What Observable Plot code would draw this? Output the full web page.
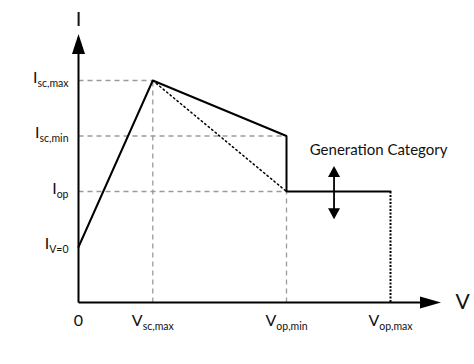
<!DOCTYPE html>
<html>
<head>
<meta charset="utf-8">
<script src="https://cdn.jsdelivr.net/npm/d3@7"></script>
<script src="https://cdn.jsdelivr.net/npm/@observablehq/plot@0.6"></script>
<style>
  html, body { margin: 0; padding: 0; background: #fff; }
  svg { display: block; }
</style>
</head>
<body>
<div id="chart"></div>
<script>
// Voltage positions (arbitrary units) and their tick labels ("|" marks subscript start)
const vTicks = [0, 2.5, 7, 10.5];
const vLabels = ["0", "V|sc,max", "V|op,min", "V|op,max"];
// Current positions and tick labels
const iTicks = [2.5, 5, 7.5, 10];
const iLabels = ["I|V=0", "I|op", "I|sc,min", "I|sc,max"];
// Characteristic curve (solid)
const curveV = [0, 2.5, 7, 7, 10.5];
const curveI = [2.5, 10, 7.5, 5, 5];
// Dotted alternative path
const dottedV = [2.5, 7];
const dottedI = [10, 5];
// Axis extents and annotation
const axisVEnd = 12.2, axisIEnd = 12.1;
const axisVLabel = "V", axisILabel = "I";
const genLabel = "Generation Category";
const genV = 10.1, genI = 6.85;
const genArrowV = 8.6, genArrowI = [3.75, 6.15];

const curve = curveV.map((v, k) => ({v, i: curveI[k]}));
const dotted = dottedV.map((v, k) => ({v, i: dottedI[k]}));
const [iV0, iOp, iScMin, iScMax] = iTicks;
const [v0, vScMax, vOpMin, vOpMax] = vTicks;

// Guide lines (dashed grey)
const hGuides = [
  {i: iScMax, v2: vScMax},
  {i: iScMin, v2: vOpMin},
  {i: iOp, v2: vOpMin}
];
const vGuides = [
  {v: vScMax, i2: iScMax},
  {v: vOpMin, i2: iOp}
];

// custom arrowhead symbols (tip at origin)
const arrowUp = {draw(c) { c.moveTo(0, 0); c.lineTo(6.5, 20); c.lineTo(-6.5, 20); c.closePath(); }};
const arrowRight = {draw(c) { c.moveTo(0, 0); c.lineTo(-21, -6); c.lineTo(-21, 6); c.closePath(); }};
const smallUp = {draw(c) { c.moveTo(0, 0); c.lineTo(6, 11); c.lineTo(-6, 11); c.closePath(); }};
const smallDown = {draw(c) { c.moveTo(0, 0); c.lineTo(6, -11); c.lineTo(-6, -11); c.closePath(); }};

const font = "Lato, 'Open Sans', sans-serif";

const plot = Plot.plot({
  width: 474,
  height: 364,
  style: {background: "#fff", fontFamily: font, overflow: "visible"},
  x: {domain: [0, 10.5], range: [78, 390], axis: null},
  y: {domain: [0, 10], range: [302, 80], axis: null},
  marks: [
    // dashed guides
    Plot.link(hGuides, {x1: v0, x2: "v2", y1: "i", y2: "i", stroke: "#9a9a9a", strokeWidth: 1.3, strokeDasharray: "5,4"}),
    Plot.link(vGuides, {x1: "v", x2: "v", y1: 0, y2: "i2", stroke: "#9a9a9a", strokeWidth: 1.3, strokeDasharray: "5,4"}),
    // dotted diagonal
    Plot.line(dotted, {x: "v", y: "i", stroke: "#000", strokeWidth: 1.5, strokeDasharray: "1.5,3"}),
    // dotted vertical at Vop,max
    Plot.link([vOpMax], {x1: d => d, x2: d => d, y1: iOp, y2: 0, stroke: "#000", strokeWidth: 2, strokeDasharray: "2,1.5"}),
    // characteristic
    Plot.line(curve, {x: "v", y: "i", stroke: "#000", strokeWidth: 2, strokeLinejoin: "miter"}),
    // axes
    Plot.link([0], {x1: v0, x2: v0, y1: 0, y2: axisIEnd - 0.5, stroke: "#000", strokeWidth: 2}),
    Plot.link([0], {x1: v0, x2: axisVEnd - 0.5, y1: 0, y2: 0, stroke: "#000", strokeWidth: 2}),
    Plot.dot([0], {x: v0, y: axisIEnd, symbol: arrowUp, fill: "#000", stroke: null}),
    Plot.dot([0], {x: axisVEnd, y: 0, symbol: arrowRight, fill: "#000", stroke: null}),
    // double arrow
    Plot.link([0], {x1: genArrowV, x2: genArrowV, y1: genArrowI[0] + 0.3, y2: genArrowI[1] - 0.3, stroke: "#000", strokeWidth: 1.8}),
    Plot.dot([0], {x: genArrowV, y: genArrowI[1], symbol: smallUp, fill: "#000", stroke: null}),
    Plot.dot([0], {x: genArrowV, y: genArrowI[0], symbol: smallDown, fill: "#000", stroke: null}),
    Plot.text([genLabel], {x: genV, y: genI, text: d => d, fontSize: 15, fill: "#111"}),
    // axis labels
    Plot.text([axisILabel], {x: v0, y: 12.75, text: d => d, fontSize: 20, fill: "#111"}),
    Plot.text([axisVLabel], {x: 12.93, y: 0, text: d => d, fontSize: 21, fill: "#111"}),
    // tick labels
    Plot.text(vTicks, {x: d => d, y: -0.85, text: (d, k) => vLabels[k], fontSize: 16, fill: "#111", textAnchor: "middle"}),
    Plot.text(iTicks, {x: v0, y: d => d, dx: -10, dy: -3, text: (d, k) => iLabels[k], fontSize: 16, fill: "#111", textAnchor: "end"})
  ]
});

// convert "X|sub" labels into letter + subscript
d3.select(plot).selectAll("text").each(function() {
  const t = this.textContent;
  if (!t.includes("|")) return;
  const [main, sub] = t.split("|");
  const sel = d3.select(this);
  sel.text(null);
  sel.append("tspan").text(main);
  sel.append("tspan").attr("font-size", 10.5).attr("dy", 4).text(sub);
});

document.getElementById("chart").appendChild(plot);
</script>
</body>
</html>
